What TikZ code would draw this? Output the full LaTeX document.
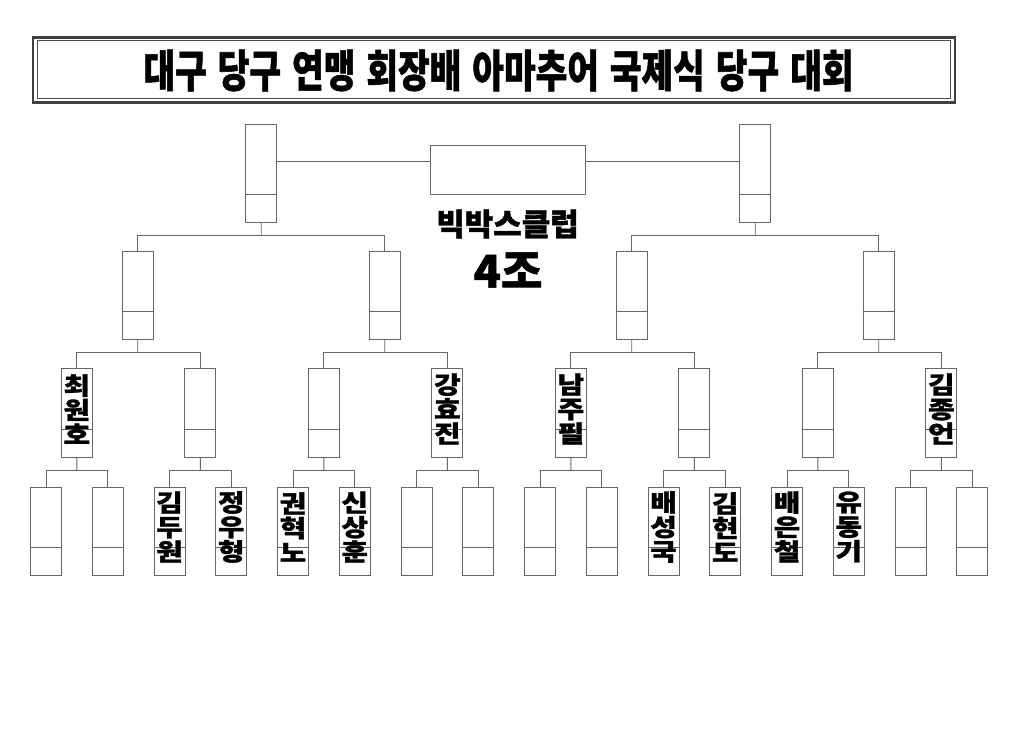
\documentclass[tikz,border=0pt]{standalone}
\usepackage{fontspec}
\newfontfamily\kr{Noto Sans CJK KR}
\newfontfamily\krx{Noto Sans CJK KR}[BoldFeatures={FakeBold=1.2}]
\usetikzlibrary{calc}
\begin{document}
\begin{tikzpicture}[x=1pt,y=-1pt,
  ln/.style={draw=black!60,line width=0.8pt},
  cell/.style={rectangle,draw=black!60,line width=0.8pt,minimum width=31pt,inner sep=0pt,fill=white},
  nm/.style={inner sep=0pt,align=center,xscale=1.2,font=\krx\bfseries\fontsize{24}{24.5}\selectfont}]
\fill[white] (0,0) rectangle (1024,746);
\useasboundingbox (0,0) rectangle (1024,746);
% title frame
\node[draw=black!75,line width=2.6pt,minimum width=922pt,minimum height=65pt,inner sep=0pt] (tframe) at (494,70) {};
\node[draw=black!70,line width=1pt,minimum width=913pt,minimum height=58pt,inner sep=0pt] (tinner) at (494,70) {};
\node[inner sep=0pt] (title) at (498.5,70.5) {\scalebox{0.8}[1.03]{\krx\bfseries\fontsize{43}{43}\selectfont 대구\hspace{.32em}당구\hspace{.32em}연맹\hspace{.32em}회장배\hspace{.32em}아마추어\hspace{.32em}국제식\hspace{.32em}당구\hspace{.32em}대회}};
% boxes
\foreach \i in {0,...,15}{
  \node[cell,minimum height=88pt] (r\i) at ({46+61.75*\i},531) {};
  \draw[ln] ([yshift=28pt]r\i.south west) -- ([yshift=28pt]r\i.south east);
}
\foreach \i in {0,...,7}{
  \node[cell,minimum height=89pt] (t\i) at ({76.875+123.5*\i},412.5) {};
  \draw[ln] ([yshift=28pt]t\i.south west) -- ([yshift=28pt]t\i.south east);
}
\foreach \i in {0,...,3}{
  \node[cell,minimum height=88pt] (q\i) at ({137.75+247*\i},295) {};
  \draw[ln] ([yshift=28pt]q\i.south west) -- ([yshift=28pt]q\i.south east);
}
\foreach \i in {0,1}{
  \node[cell,minimum height=98pt] (s\i) at ({261.25+494*\i},173) {};
  \draw[ln] ([yshift=28pt]s\i.south west) -- ([yshift=28pt]s\i.south east);
}
\node[cell,minimum width=155pt,minimum height=49pt] (f) at (507.5,169.5) {};
% connectors
\foreach \k in {0,...,7}{
  \pgfmathtruncatemacro\a{2*\k}\pgfmathtruncatemacro\b{2*\k+1}
  \coordinate (m) at ($(t\k.south)!.45!(t\k.south |- r\a.north)$);
  \draw[ln] (t\k.south) -- (m);
  \draw[ln] (r\a.north) |- (m) -| (r\b.north);
}
\foreach \k in {0,...,3}{
  \pgfmathtruncatemacro\a{2*\k}\pgfmathtruncatemacro\b{2*\k+1}
  \coordinate (m) at ($(q\k.south)!.45!(q\k.south |- t\a.north)$);
  \draw[ln] (q\k.south) -- (m);
  \draw[ln] (t\a.north) |- (m) -| (t\b.north);
}
\foreach \k in {0,1}{
  \pgfmathtruncatemacro\a{2*\k}\pgfmathtruncatemacro\b{2*\k+1}
  \coordinate (m) at ($(s\k.south)!.45!(s\k.south |- q\a.north)$);
  \draw[ln] (s\k.south) -- (m);
  \draw[ln] (q\a.north) |- (m) -| (q\b.north);
}
\coordinate (fl) at ([yshift=8.5pt]f.west);
\coordinate (fr) at ([yshift=8.5pt]f.east);
\draw[ln] (s0.east |- fl) -- (fl);
\draw[ln] (fr) -- (s1.west |- fr);
% centre texts
\node[inner sep=0pt,font=\krx\bfseries\fontsize{31}{31}\selectfont] (club) at (507.5,224) {빅박스클럽};
\node[inner sep=0pt,font=\krx\bfseries\fontsize{45}{45}\selectfont] (grp) at (508,270) {4조};
% names
\node[nm] (n1) at ([yshift=3.5pt]t0.center) {최\\원\\호};
\node[nm] (n2) at ([yshift=3.5pt]t3.center) {강\\효\\진};
\node[nm] (n3) at ([yshift=3.5pt]t4.center) {남\\주\\필};
\node[nm] (n4) at ([yshift=3.5pt]t7.center) {김\\종\\언};
\node[nm] (n5) at ([yshift=4pt]r2.center) {김\\두\\원};
\node[nm] (n6) at ([yshift=4pt]r3.center) {정\\우\\형};
\node[nm] (n7) at ([yshift=4pt]r4.center) {권\\혁\\노};
\node[nm] (n8) at ([yshift=4pt]r5.center) {신\\상\\훈};
\node[nm] (n9) at ([yshift=4pt]r10.center) {배\\성\\국};
\node[nm] (n10) at ([yshift=4pt]r11.center) {김\\현\\도};
\node[nm] (n11) at ([yshift=4pt]r12.center) {배\\은\\철};
\node[nm] (n12) at ([yshift=4pt]r13.center) {유\\동\\기};
\end{tikzpicture}
\end{document}
